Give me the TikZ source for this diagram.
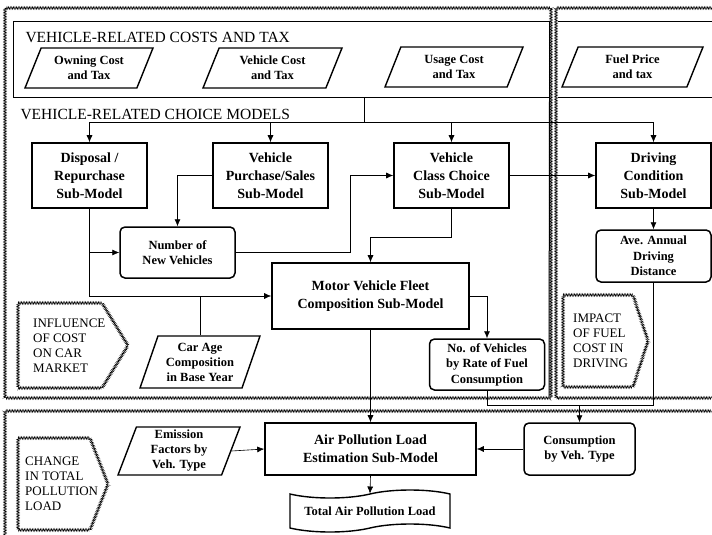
\documentclass[tikz,border=0pt]{standalone}
\usepackage{fontspec}
\setmainfont{Liberation Serif}
\usepackage{tikz}
\usetikzlibrary{arrows.meta,shapes,decorations.pathmorphing}

\begin{document}
\begin{tikzpicture}[x=1pt,y=-1pt,
	submodel/.style={draw,line width=1.6pt,align=center,font=\bfseries\fontsize{14}{18}\selectfont,minimum width=115pt,minimum height=65pt,inner sep=1pt},
	result/.style={draw,line width=1.5pt,rounded corners=5pt,align=center,font=\bfseries\fontsize{12.5}{15.5}\selectfont,minimum width=115pt,minimum height=51pt,inner sep=1pt},
	input/.style={trapezium,trapezium stretches body=true,trapezium left angle=58,trapezium right angle=122,draw,line width=1.4pt,align=center,font=\bfseries\fontsize{12.5}{15}\selectfont,minimum height=40pt,inner sep=1pt},
	wavy/.style={decorate,decoration={zigzag,segment length=1.6pt,amplitude=1.4pt}},
	remark/.style={align=left,font=\fontsize{13}{15}\selectfont,inner sep=0pt},
	heading/.style={anchor=west,font=\fontsize{15.5}{18}\selectfont},
	flow/.style={->,>={Latex[length=7pt,width=6pt]},line width=0.6pt}]
		\useasboundingbox (0,0) rectangle (712,535);
		%
		\draw[wavy] (5,8) rectangle (551,398);
		\draw[wavy] (712,8) -- (556,8) -- (556,398) -- (712,398);
		\draw[wavy] (5,535) -- (5,411) -- (712,411);
		%
		\node[draw,line width=1pt,minimum width=536pt,minimum height=75pt,inner sep=0pt] (costs) at (281,59.5) {};
		\draw[line width=1pt] (558,22) -- (712,22) (558,97) -- (712,97);
		\draw[line width=1pt] (costs.south east) -- (549,396);
		\node[heading] (costlabel) at (22,37) {VEHICLE-RELATED COSTS AND TAX};
		\node[heading] (choicelabel) at (17,114) {VEHICLE-RELATED CHOICE MODELS};
		%
		\node[input,minimum width=128pt] (owncost) at (89,68) {Owning Cost\\and Tax};
		\node[input,minimum width=139pt] (vehcost) at (272.5,68) {Vehicle Cost\\and Tax};
		\node[input,minimum width=138pt] (usecost) at (454,67) {Usage Cost\\and Tax};
		\node[input,minimum width=141pt] (fuelprice) at (632.5,67) {Fuel Price\\and tax};
		%
		\node[submodel] (disposal) at (89.5,175.5) {Disposal /\\Repurchase\\Sub-Model};
		\node[submodel] (purchase) at (270.5,175.5) {Vehicle\\Purchase/Sales\\Sub-Model};
		\node[submodel] (classchoice) at (451.5,175.5) {Vehicle\\Class Choice\\Sub-Model};
		\node[submodel] (driving) at (653.5,175.5) {Driving\\Condition\\Sub-Model};
		\node[submodel,minimum width=197pt,minimum height=66pt] (fleet) at (370.5,296) {Motor Vehicle Fleet\\Composition Sub-Model};
		\node[submodel,minimum width=211pt,minimum height=52pt] (airload) at (370.5,449) {Air Pollution Load\\Estimation Sub-Model};
		%
		\node[result] (newveh) at (177.5,252.5) {Number of\\New Vehicles};
		\node[result,minimum height=52pt] (avedist) at (653.5,256) {Ave. Annual\\Driving\\Distance};
		\node[result] (byrate) at (487,364.5) {No. of Vehicles\\by Rate of Fuel\\Consumption};
		\node[result,minimum width=111pt,minimum height=52pt] (consump) at (579.5,449) {Consumption\\by Veh. Type};
		%
		\node[input,trapezium left angle=66,trapezium right angle=114,minimum width=120pt,minimum height=52pt] (carage) at (200,362) {Car Age\\Composition\\in Base Year};
		\node[input,trapezium left angle=67,trapezium right angle=113,minimum width=122pt,minimum height=48pt] (emission) at (179,451) {Emission\\Factors by\\Veh. Type};
		\node[tape,draw,line width=1.4pt,font=\bfseries\fontsize{12.5}{15}\selectfont,minimum width=160pt,minimum height=42pt,tape bend height=8pt] (totalload) at (370,511) {Total Air Pollution Load};
		%
		\draw[wavy] (18,303) -- (102,303) -- (128,345.5) -- (102,388) -- (18,388) -- cycle;
		\node[remark,anchor=west] (influence) at (33,345.5) {INFLUENCE\\OF COST\\ON CAR\\MARKET};
		\draw[wavy] (563,295) -- (633,295) -- (648,341) -- (633,387) -- (563,387) -- cycle;
		\node[remark,anchor=west] (impact) at (573,341) {IMPACT\\OF FUEL\\COST IN\\DRIVING};
		\draw[wavy] (18,438) -- (90,438) -- (108,484) -- (90,530) -- (18,530) -- cycle;
		\node[remark,anchor=west] (change) at (25,484) {CHANGE\\IN TOTAL\\POLLUTION\\LOAD};
		%
		\coordinate (split) at (364,122);
		\draw[line width=0.6pt] (split |- costs.south) -- (split);
		\draw[flow] (split) -| (disposal.north);
		\draw[flow] (split) -| (purchase.north);
		\draw[flow] (split) -| (classchoice.north);
		\draw[flow] (split) -| (driving.north);
		\draw[flow] (purchase.west) -| (newveh.north);
		\draw[flow] (disposal.south) |- (newveh.west);
		\draw[flow] (disposal.south) |- (fleet.west);
		\draw[line width=0.6pt] (carage.north) -- (carage.north |- fleet.west);
		\draw[flow] (newveh.east) -- ++(115,0) |- (classchoice.west);
		\draw[flow] (classchoice.south) -- ++(0,28) -| (fleet.north);
		\draw[flow] (classchoice.east) -- (driving.west);
		\draw[flow] (driving) -- (avedist);
		\draw[flow] (fleet.east) -| (byrate.north);
		\draw[flow] (fleet.south) -- (airload.north);
		\draw[line width=0.6pt] (byrate.south) |- (avedist.south |- 0,405) -- (avedist.south);
		\draw[flow] (consump.north |- 0,405) -- (consump.north);
		\draw[flow] (emission.east) -- (airload.west);
		\draw[flow] (consump.west) -- (airload.east);
		\draw[flow] (airload.south) -- (totalload.north);
\end{tikzpicture}
\end{document}
